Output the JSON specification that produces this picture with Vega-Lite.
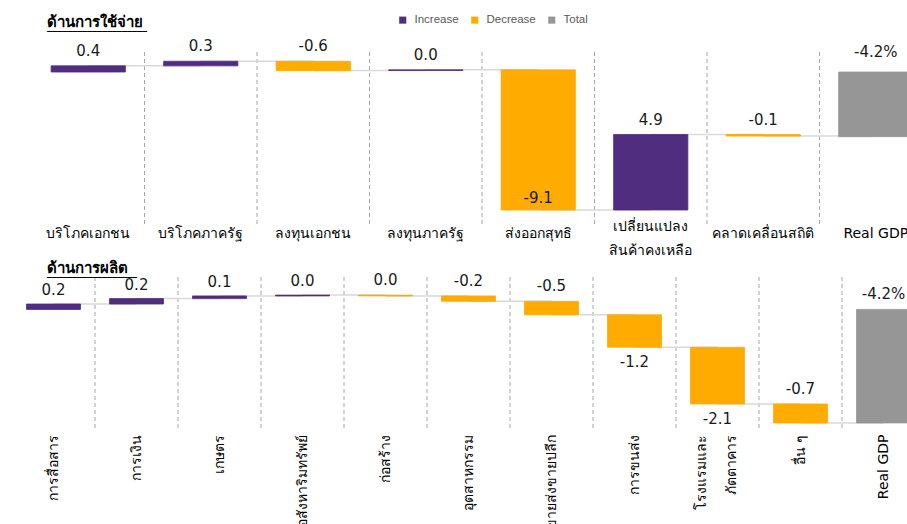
{
  "$schema": "https://vega.github.io/schema/vega-lite/v6.json",
  "padding": {"left": 12, "top": 14, "right": 0, "bottom": 0},
  "spacing": 4,
  "config": {
    "font": "Tahoma, DejaVu Sans, sans-serif",
    "view": {"stroke": null}
  },
  "vconcat": [
    {
      "width": 900,
      "height": 174,
      "title": {"text": "ด้านการใช้จ่าย", "subtitle": "____________________", "subtitleFont": "DejaVu Sans", "subtitleFontSize": 10, "subtitleFontWeight": "bold", "subtitleColor": "#000000", "subtitlePadding": -9, "anchor": "start", "frame": "group", "dx": 35, "fontSize": 15, "fontWeight": "bold", "color": "#000000", "offset": 8},
      "data": {"values": [
        {"category": "บริโภคเอกชน", "value": 0.4, "type": "Increase", "label": "0.4"},
        {"category": "บริโภคภาครัฐ", "value": 0.3, "type": "Increase", "label": "0.3"},
        {"category": "ลงทุนเอกชน", "value": -0.6, "type": "Decrease", "label": "-0.6"},
        {"category": "ลงทุนภาครัฐ", "value": 0.04, "type": "Increase", "label": "0.0"},
        {"category": "ส่งออกสุทธิ", "value": -9.1, "type": "Decrease", "label": "-9.1"},
        {"category": "เปลี่ยนแปลง|สินค้าคงเหลือ", "value": 4.9, "type": "Increase", "label": "4.9"},
        {"category": "คลาดเคลื่อนสถิติ", "value": -0.1, "type": "Decrease", "label": "-0.1"},
        {"category": "Real GDP", "value": -4.2, "type": "Total", "label": "-4.2%"}
      ]},
      "transform": [
        {"window": [{"op": "sum", "field": "value", "as": "end"}], "frame": [null, 0]},
        {"window": [{"op": "sum", "field": "value", "as": "start"}], "frame": [null, -1]},
        {"window": [{"op": "lead", "field": "category", "as": "next"}]}
      ],
      "encoding": {
        "x": {
          "field": "category", "type": "nominal",
          "scale": {"domain": ["บริโภคเอกชน", "บริโภคภาครัฐ", "ลงทุนเอกชน", "ลงทุนภาครัฐ", "ส่งออกสุทธิ", "เปลี่ยนแปลง|สินค้าคงเหลือ", "คลาดเคลื่อนสถิติ", "Real GDP"], "range": [20, 920], "paddingInner": 0, "paddingOuter": 0},
          "axis": {"title": null, "domain": false, "ticks": false, "grid": false, "labelAngle": 0, "labelFontSize": 14, "labelColor": "#000000", "labelPadding": {"condition": {"test": "indexof(datum.value, '|') >= 0", "value": 0}, "value": 7}, "labelBaseline": "middle", "labelLineHeight": 24, "labelOverlap": false, "labelExpr": "split(datum.label, '|')"}
        }
      },
      "layer": [
        {
          "transform": [{"filter": "datum.type != 'Total'"}],
          "mark": {"type": "rule", "color": "#A6A6A6", "strokeDash": [4, 3], "strokeWidth": 1},
          "encoding": {"x": {"field": "category", "type": "nominal", "bandPosition": 1}}
        },
        {
          "mark": {"type": "rule", "color": "#A6A6A6", "strokeWidth": 1.5},
          "encoding": {"y": {"datum": 0, "scale": {"domain": [-10, 1.3], "nice": false, "zero": false}, "axis": null}}
        },
        {
          "transform": [{"filter": "isValid(datum.next)"}],
          "mark": {"type": "rule", "color": "#D9D9D9", "strokeWidth": 1.5},
          "encoding": {
            "x": {"field": "category", "type": "nominal", "bandPosition": 0.5},
            "x2": {"field": "next"},
            "y": {"field": "end", "type": "quantitative", "axis": null}
          }
        },
        {
          "transform": [{"filter": "datum.type != 'Total' && isValid(datum.start)"}],
          "mark": {"type": "bar", "width": {"band": 0.66}, "strokeWidth": 0.8},
          "encoding": {
            "y": {"field": "start", "type": "quantitative", "axis": null},
            "y2": {"field": "end"},
            "color": {"field": "type", "type": "nominal", "scale": {"domain": ["Increase", "Decrease", "Total"], "range": ["#502D7F", "#FFAB00", "#969696"]}, "legend": {"orient": "none", "legendX": 385, "legendY": -38, "direction": "horizontal", "title": null, "symbolType": "square", "symbolSize": 50, "labelFont": "Liberation Sans", "labelFontSize": 11.5, "labelColor": "#595959", "labelOffset": 6, "columnPadding": 10, "symbolStrokeWidth": 0}},
            "stroke": {"field": "type", "type": "nominal", "scale": {"domain": ["Increase", "Decrease", "Total"], "range": ["#502D7F", "#FFAB00", "#969696"]}, "legend": null}
          }
        },
        {
          "transform": [{"filter": "datum.type == 'Total' || !isValid(datum.start)"}],
          "mark": {"type": "bar", "width": {"band": 0.66}, "strokeWidth": 0.8},
          "encoding": {
            "y": {"field": "value", "type": "quantitative", "axis": null},
            "y2": {"datum": 0},
            "color": {"field": "type", "type": "nominal"},
            "stroke": {"field": "type", "type": "nominal", "legend": null}
          }
        },
        {
          "transform": [{"filter": "datum.type == 'Increase'"}],
          "mark": {"type": "text", "baseline": "bottom", "dy": -7, "fontSize": 15, "color": "#1A1A1A"},
          "encoding": {"y": {"field": "end", "type": "quantitative", "axis": null}, "text": {"field": "label"}}
        },
        {
          "transform": [{"filter": "datum.type == 'Decrease' && datum.category != 'ส่งออกสุทธิ'"}],
          "mark": {"type": "text", "baseline": "bottom", "dy": -7, "fontSize": 15, "color": "#1A1A1A"},
          "encoding": {"y": {"field": "start", "type": "quantitative", "axis": null}, "text": {"field": "label"}}
        },
        {
          "transform": [{"filter": "datum.category == 'ส่งออกสุทธิ'"}],
          "mark": {"type": "text", "baseline": "bottom", "dy": -4, "fontSize": 15, "color": "#1A1A1A"},
          "encoding": {"y": {"field": "end", "type": "quantitative", "axis": null}, "text": {"field": "label"}}
        },
        {
          "transform": [{"filter": "datum.type == 'Total'"}],
          "mark": {"type": "text", "baseline": "bottom", "dy": -12, "fontSize": 15, "color": "#1A1A1A"},
          "encoding": {"y": {"datum": 0}, "text": {"field": "label"}}
        }
      ]
    },
    {
      "width": 913,
      "height": 154,
      "title": {"text": "ด้านการผลิต", "subtitle": "__________________", "subtitleFont": "DejaVu Sans", "subtitleFontSize": 10, "subtitleFontWeight": "bold", "subtitleColor": "#000000", "subtitlePadding": -9, "anchor": "start", "frame": "group", "dx": 35, "fontSize": 15, "fontWeight": "bold", "color": "#000000", "offset": -4},
      "data": {"values": [
        {"category": "การสื่อสาร", "value": 0.2, "type": "Increase", "label": "0.2"},
        {"category": "การเงิน", "value": 0.2, "type": "Increase", "label": "0.2"},
        {"category": "เกษตร", "value": 0.1, "type": "Increase", "label": "0.1"},
        {"category": "อสังหาริมทรัพย์", "value": 0.03, "type": "Increase", "label": "0.0"},
        {"category": "ก่อสร้าง", "value": -0.03, "type": "Decrease", "label": "0.0"},
        {"category": "อุตสาหกรรม", "value": -0.2, "type": "Decrease", "label": "-0.2"},
        {"category": "ขายส่งขายปลีก", "value": -0.5, "type": "Decrease", "label": "-0.5"},
        {"category": "การขนส่ง", "value": -1.2, "type": "Decrease", "label": "-1.2"},
        {"category": "โรงแรมและ|ภัตตาคาร", "value": -2.1, "type": "Decrease", "label": "-2.1"},
        {"category": "อื่น ๆ", "value": -0.7, "type": "Decrease", "label": "-0.7"},
        {"category": "Real GDP", "value": -4.2, "type": "Total", "label": "-4.2%"}
      ]},
      "transform": [
        {"window": [{"op": "sum", "field": "value", "as": "end"}], "frame": [null, 0]},
        {"window": [{"op": "sum", "field": "value", "as": "start"}], "frame": [null, -1]},
        {"window": [{"op": "lead", "field": "category", "as": "next"}]}
      ],
      "encoding": {
        "x": {
          "field": "category", "type": "nominal",
          "scale": {"domain": ["การสื่อสาร", "การเงิน", "เกษตร", "อสังหาริมทรัพย์", "ก่อสร้าง", "อุตสาหกรรม", "ขายส่งขายปลีก", "การขนส่ง", "โรงแรมและ|ภัตตาคาร", "อื่น ๆ", "Real GDP"], "paddingInner": 0, "paddingOuter": 0},
          "axis": {"title": null, "domain": false, "ticks": false, "grid": false, "labelAngle": -90, "labelAlign": "right", "labelBaseline": "middle", "labelFontSize": 14, "labelColor": "#000000", "labelPadding": 3, "labelLineHeight": 30, "labelOffset": {"condition": {"test": "indexof(datum.value, '|') >= 0", "value": -16}, "value": 0}, "labelOverlap": false, "labelExpr": "split(datum.label, '|')"}
        }
      },
      "layer": [
        {
          "transform": [{"filter": "datum.type != 'Total'"}],
          "mark": {"type": "rule", "color": "#A6A6A6", "strokeDash": [4, 3], "strokeWidth": 1},
          "encoding": {"x": {"field": "category", "type": "nominal", "bandPosition": 1}}
        },
        {
          "mark": {"type": "rule", "color": "#A6A6A6", "strokeWidth": 1.5},
          "encoding": {"y": {"datum": 0, "scale": {"domain": [-4.5, 1.2], "nice": false, "zero": false}, "axis": null}}
        },
        {
          "transform": [{"filter": "isValid(datum.next)"}],
          "mark": {"type": "rule", "color": "#D9D9D9", "strokeWidth": 1.5},
          "encoding": {
            "x": {"field": "category", "type": "nominal", "bandPosition": 0.5},
            "x2": {"field": "next"},
            "y": {"field": "end", "type": "quantitative", "axis": null}
          }
        },
        {
          "transform": [{"filter": "datum.type != 'Total' && isValid(datum.start)"}],
          "mark": {"type": "bar", "width": {"band": 0.65}, "strokeWidth": 0.8},
          "encoding": {
            "y": {"field": "start", "type": "quantitative", "axis": null},
            "y2": {"field": "end"},
            "color": {"field": "type", "type": "nominal"},
            "stroke": {"field": "type", "type": "nominal", "legend": null}
          }
        },
        {
          "transform": [{"filter": "datum.type == 'Total' || !isValid(datum.start)"}],
          "mark": {"type": "bar", "width": {"band": 0.65}, "strokeWidth": 0.8},
          "encoding": {
            "y": {"field": "value", "type": "quantitative", "axis": null},
            "y2": {"datum": 0},
            "color": {"field": "type", "type": "nominal"},
            "stroke": {"field": "type", "type": "nominal", "legend": null}
          }
        },
        {
          "transform": [{"filter": "datum.type == 'Increase'"}],
          "mark": {"type": "text", "baseline": "bottom", "dy": -6, "fontSize": 15, "color": "#1A1A1A"},
          "encoding": {"y": {"field": "end", "type": "quantitative", "axis": null}, "text": {"field": "label"}}
        },
        {
          "transform": [{"filter": "datum.type == 'Decrease' && datum.category != 'การขนส่ง' && datum.category != 'โรงแรมและ|ภัตตาคาร'"}],
          "mark": {"type": "text", "baseline": "bottom", "dy": -7, "fontSize": 15, "color": "#1A1A1A"},
          "encoding": {"y": {"field": "start", "type": "quantitative", "axis": null}, "text": {"field": "label"}}
        },
        {
          "transform": [{"filter": "datum.category == 'การขนส่ง' || datum.category == 'โรงแรมและ|ภัตตาคาร'"}],
          "mark": {"type": "text", "baseline": "top", "dy": 8, "fontSize": 15, "color": "#1A1A1A"},
          "encoding": {"y": {"field": "end", "type": "quantitative", "axis": null}, "text": {"field": "label"}}
        },
        {
          "transform": [{"filter": "datum.type == 'Total'"}],
          "mark": {"type": "text", "baseline": "bottom", "dy": -7, "fontSize": 15, "color": "#1A1A1A"},
          "encoding": {"y": {"datum": 0}, "text": {"field": "label"}}
        }
      ]
    }
  ]
}
